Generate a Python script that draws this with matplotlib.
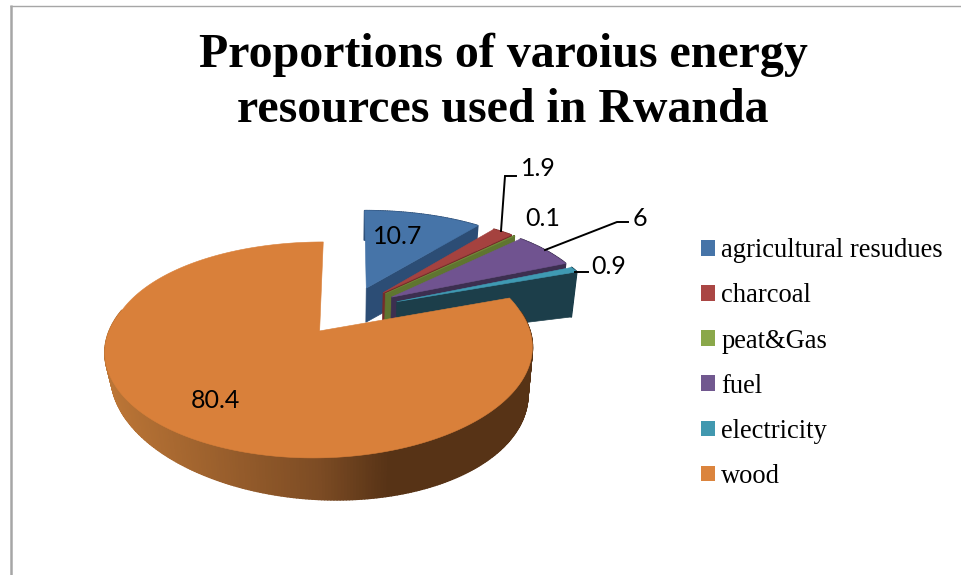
import numpy as np
import matplotlib
matplotlib.use("Agg")
import matplotlib.pyplot as plt
from matplotlib.patches import Polygon, Patch
from matplotlib.collections import PolyCollection
from matplotlib.colors import to_rgb

categories = ["agricultural resudues", "charcoal", "peat&Gas", "fuel", "electricity", "wood"]
values = [10.7, 1.9, 0.1, 6, 0.9, 80.4]
value_labels = ["10.7", "1.9", "0.1", "6", "0.9", "80.4"]
top_colors = ["#4674a8", "#a5423f", "#6f8a38", "#705390", "#3f9ab3", "#d9803a"]
legend_colors = ["#4674a8", "#aa4644", "#8aa84a", "#71588f", "#4198af", "#db843d"]
face_colors = ["#2c4d75", "#772c2a", "#5f7530", "#3c2f50", "#1c3e4a", "#573316"]
title_lines = ["Proportions of varoius energy", "resources used in Rwanda"]

EXPLODE = 0.25
X0, Y0, FX, FY, PERSP = 350.0, 310.3, 203.0, 97.5, 0.17
DEPTH, DEPTH_TILT, SHRINK = 34.5, 0.34, 5.0


def project(x, y, bottom=False):
    x, y = np.asarray(x, float), np.asarray(y, float)
    s = 1.0 / (1.0 + PERSP * y)
    sx = X0 + FX * x * s + 8.0 * x * np.maximum(y, 0)
    sy = Y0 - FY * y * s
    if bottom:
        sx = sx - SHRINK * x * s
        sy = sy + DEPTH * (1 + DEPTH_TILT * x) * s
    return np.column_stack([sx, sy])


fig = plt.figure(figsize=(9.61, 5.75), dpi=100)
ax = fig.add_axes([0, 0, 1, 1])
ax.set_xlim(0, 961)
ax.set_ylim(575, 0)
ax.axis("off")

# frame of the chart area
ax.plot([10.5, 10.5], [5, 575], color="#a6a6a6", lw=1.8, solid_capstyle="butt")
ax.plot([10, 961], [5.5, 5.5], color="#a6a6a6", lw=1.0, solid_capstyle="butt")

fractions = np.array(values) / np.sum(values)
edges = np.concatenate([[0], np.cumsum(fractions)]) * 2 * np.pi
wall_left, wall_mid, wall_right = np.array(to_rgb("#bb7536")), np.array(to_rgb("#7d4c24")), np.array(to_rgb("#573316"))
last = len(values) - 1

for i, (a0, a1) in enumerate(zip(edges[:-1], edges[1:])):
    mid = (a0 + a1) / 2
    ox, oy = EXPLODE * np.sin(mid), EXPLODE * np.cos(mid)
    th = np.linspace(a0, a1, max(8, int((a1 - a0) * 80)))
    xs, ys = ox + np.sin(th), oy + np.cos(th)
    top = project(xs, ys)
    bot = project(xs, ys, bottom=True)
    # outer wall as narrow strips; the back of the big slice stays hidden
    strips, colors = [], []
    for k in range(len(th) - 1):
        if i == last and np.cos(th[k]) > 0.2:
            continue
        strips.append([top[k], top[k + 1], bot[k + 1], bot[k]])
        if i == last:
            px = (top[k, 0] - 110) / (527 - 110)
            if px < 0.5:
                c = wall_left + (wall_mid - wall_left) * max(px, 0) / 0.5
            else:
                c = wall_mid + (wall_right - wall_mid) * min((px - 0.5) / 0.17, 1)
        else:
            c = np.array(to_rgb(face_colors[i]))
        colors.append(c)
    ax.add_collection(PolyCollection(strips, facecolors=colors, edgecolors=colors, linewidths=1.2, zorder=10 + 3 * i))
    apex_t = project([ox], [oy])[0]
    apex_b = project([ox], [oy], bottom=True)[0]
    # radial cut face at the end of the slice (faces the viewer for the back slices)
    if i < last:
        ax.add_patch(Polygon([apex_t, top[-1], bot[-1], apex_b], closed=True, fc=face_colors[i],
                             ec=face_colors[i], lw=0.5, zorder=11 + 3 * i))
    ax.add_patch(Polygon(np.vstack([apex_t, top]), closed=True, fc=top_colors[i], ec=top_colors[i],
                         lw=0.4, zorder=12 + 3 * i))

# data labels and leader lines
label_pos = [(398, 236), (538, 169), (543, 218), (640, 219), (609, 266), (215, 401)]
for txt, (lx, ly) in zip(value_labels, label_pos):
    ax.text(lx, ly, txt, ha="center", va="center", fontsize=18, color="black", family="Lato", zorder=50)
leaders = [([501, 505, 516], [231, 176, 176]), ([545, 617, 628], [250, 222, 222]), ([575, 588], [272, 272])]
for lxs, lys in leaders:
    ax.plot(lxs, lys, color="black", lw=1.4, zorder=49, solid_joinstyle="miter")

for line, base in zip(title_lines, [67, 122]):
    ax.text(503, base, line, ha="center", va="baseline", fontsize=34.5, fontweight="bold",
            family="Liberation Serif", color="black", zorder=50)

handles = [Patch(facecolor=c, edgecolor=c, lw=0) for c in legend_colors]
ax.legend(handles, categories, loc="upper left", bbox_to_anchor=(696 / 961, 1 - 233 / 575),
          frameon=False, prop={"family": "Liberation Serif", "size": 19.1},
          handlelength=0.53, handleheight=0.53, handletextpad=0.23, labelspacing=0.758,
          borderpad=0.2, borderaxespad=0)

fig.savefig("out.png", dpi=100)
